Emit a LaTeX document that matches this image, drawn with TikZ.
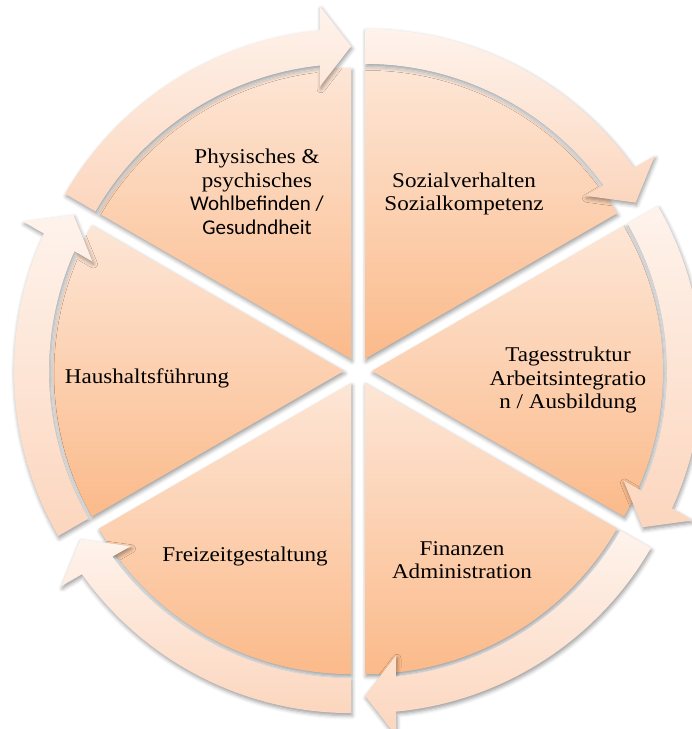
\documentclass[tikz,border=0pt]{standalone}
\usepackage{fontspec}
\setmainfont{Liberation Serif}[FakeStretch=1.1]
\newfontfamily\sansf{Carlito}
\usetikzlibrary{calc,shadows.blur}
\definecolor{wtop}{RGB}{253,230,214}
\definecolor{wbot}{RGB}{251,186,138}
\definecolor{atop}{RGB}{254,243,236}
\definecolor{abot}{RGB}{252,214,190}
\tikzset{
  wedgeshape/.style={top color=wtop, bottom color=wbot, draw=none,
    blur shadow={shadow xshift=1pt, shadow yshift=-2.5pt, shadow blur radius=4pt, shadow opacity=40}},
  ringarrow/.style={top color=atop, bottom color=abot, draw=none,
    blur shadow={shadow xshift=1pt, shadow yshift=-2.5pt, shadow blur radius=4pt, shadow opacity=40}},
  lbl/.style={align=center, font=\fontsize{21}{23.5}\selectfont, text=black, inner sep=0pt}
}
\begin{document}
\begin{tikzpicture}[x=1pt,y=1pt]
\useasboundingbox (0,0) rectangle (692,729);
\begin{scope}[shift={(358,358)}]
  \foreach \angA in {90,30,-30,-90,-150,150} {
    \pgfmathsetmacro\angB{\angA-60}
    \pgfmathsetmacro\angM{\angA-30}
    \begin{scope}[shift={(\angM:14pt)}]
      \path[wedgeshape] (0,0) -- (\angA:291pt) arc[start angle=\angA, end angle=\angB, radius=291pt] -- cycle;
    \end{scope}
  }
  \foreach \angA in {90,30,-30,-90,-150,150} {
    \pgfmathsetmacro\angB{\angA-60}
    \pgfmathsetmacro\angM{\angA-30}
    \begin{scope}[shift={(\angM:14pt)}]
      \path[ringarrow] (\angA:330pt) arc[start angle=\angA, end angle=\angB+5.39, radius=330pt]
        -- ($(\angB:352.5pt)+(\angB+90:31pt)$)
        -- (\angB:312.5pt)
        -- ($(\angB:272.5pt)+(\angB+90:31pt)$)
        -- (\angB+6.03:295pt) arc[start angle=\angB+6.03, end angle=\angA, radius=295pt]
        -- cycle;
    \end{scope}
  }
\end{scope}
\node[lbl] (phys) at (257,537) {Physisches \&\\psychisches\\{\sansf Wohlbefinden /}\\{\sansf Gesudndheit}};
\node[lbl] (sozial) at (464,535) {Sozialverhalten\\Sozialkompetenz};
\node[lbl] (tages) at (568,349) {Tagesstruktur\\Arbeitsintegratio\\n / Ausbildung};
\node[lbl] (haus) at (147,351) {Haushaltsführung};
\node[lbl] (frei) at (245,173) {Freizeitgestaltung};
\node[lbl] (fin) at (462,169) {Finanzen\\Administration};
\end{tikzpicture}
\end{document}
